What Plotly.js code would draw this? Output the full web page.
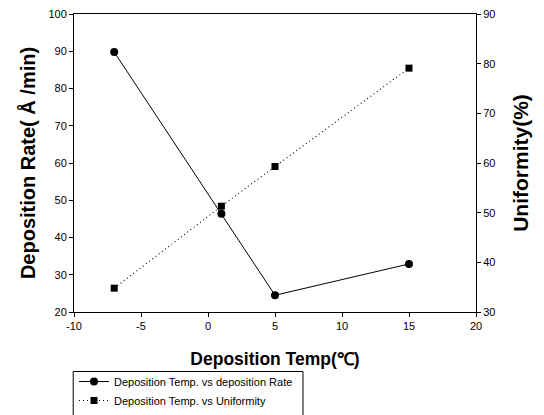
<!DOCTYPE html>
<html>
<head>
<meta charset="utf-8">
<script src="https://cdn.plot.ly/plotly-3.0.1.min.js"></script>
<style>html,body{margin:0;padding:0;background:#fff;}#chart{width:544px;height:415px;}</style>
</head>
<body>
<div id="chart"></div>
<script>
const temps = [-7, 1, 5, 15];
const depositionRate = [89.8, 46.4, 24.5, 32.9];
const uniformity = [34.8, 51.3, 59.3, 79.1];
const rateName = "Deposition Temp. vs deposition Rate";
const uniName = "Deposition Temp. vs Uniformity";
const xTickVals = [-10, -5, 0, 5, 10, 15, 20];
const xTickText = ["-10", "-5", "0", "5", "10", "15", "20"];

const traces = [
  {x: temps, y: depositionRate, name: rateName, type: 'scatter', mode: 'lines+markers',
   line: {color: '#000', width: 1}, marker: {symbol: 'circle', size: 8, color: '#000'}},
  {x: temps, y: uniformity, name: uniName, type: 'scatter', mode: 'lines+markers', yaxis: 'y2',
   line: {color: '#000', width: 1.1, dash: '1px,3px'}, marker: {symbol: 'square', size: 7, color: '#000'}}
];

const fam = 'Arial, "Liberation Sans", sans-serif';
const tickFont = {family: fam, size: 11, color: '#000'};
const xTitleFont = {family: fam, size: 17.5, color: '#000', weight: 'bold'};
const yTitleFont = {family: fam, size: 20, color: '#000', weight: 'bold'};
const y2TitleFont = {family: fam, size: 21, color: '#000', weight: 'bold'};

const layout = {
  width: 544, height: 415,
  margin: {l: 74, r: 68, t: 14, b: 103, pad: 0, autoexpand: false},
  paper_bgcolor: '#fff', plot_bgcolor: '#fff',
  showlegend: true,
  xaxis: {range: [-10, 20], tickmode: 'array', tickvals: xTickVals, ticktext: xTickText,
    showgrid: false, zeroline: false,
    showline: true, linecolor: '#000', linewidth: 1, mirror: true,
    ticks: 'outside', ticklen: 4, tickcolor: '#000', tickfont: tickFont,
    title: {text: 'Deposition Temp(℃)', font: xTitleFont, standoff: 21}, automargin: false},
  yaxis: {range: [20, 100], dtick: 10, showgrid: false, zeroline: false,
    showline: true, linecolor: '#000', linewidth: 1,
    ticks: 'outside', ticklen: 4, tickcolor: '#000', tickfont: tickFont,
    title: {text: 'Deposition Rate( Å /min)', font: yTitleFont, standoff: 7}, automargin: false},
  yaxis2: {range: [30, 90], dtick: 10, overlaying: 'y', side: 'right', showgrid: false, zeroline: false,
    showline: true, linecolor: '#000', linewidth: 1,
    ticks: 'outside', ticklen: 4, tickcolor: '#000', tickfont: tickFont,
    title: {text: 'Uniformity(%)', font: y2TitleFont, standoff: 18}, automargin: false},
  legend: {x: 0, xanchor: 'left', y: -(367 - 312) / 298, yanchor: 'top',
    bgcolor: 'rgba(0,0,0,0)',
    borderwidth: 0, font: {family: fam, size: 11, color: '#000'},
    tracegroupgap: 0, itemwidth: 30},
  shapes: [
    {type: 'rect', xref: 'paper', yref: 'paper', x0: -0.002, x1: 0.57, y0: -0.2, y1: -0.4,
     line: {color: '#000', width: 1}, fillcolor: 'rgba(0,0,0,0)', layer: 'below'}
  ]
};
layout.shapes[0].x1 = (303 - 74) / 402;
layout.shapes[0].y0 = (312.5 - 372) / 298;
layout.shapes[0].y1 = (312.5 - 420) / 298;

Plotly.newPlot('chart', traces, layout, {displayModeBar: false, staticPlot: true});
</script>
</body>
</html>
